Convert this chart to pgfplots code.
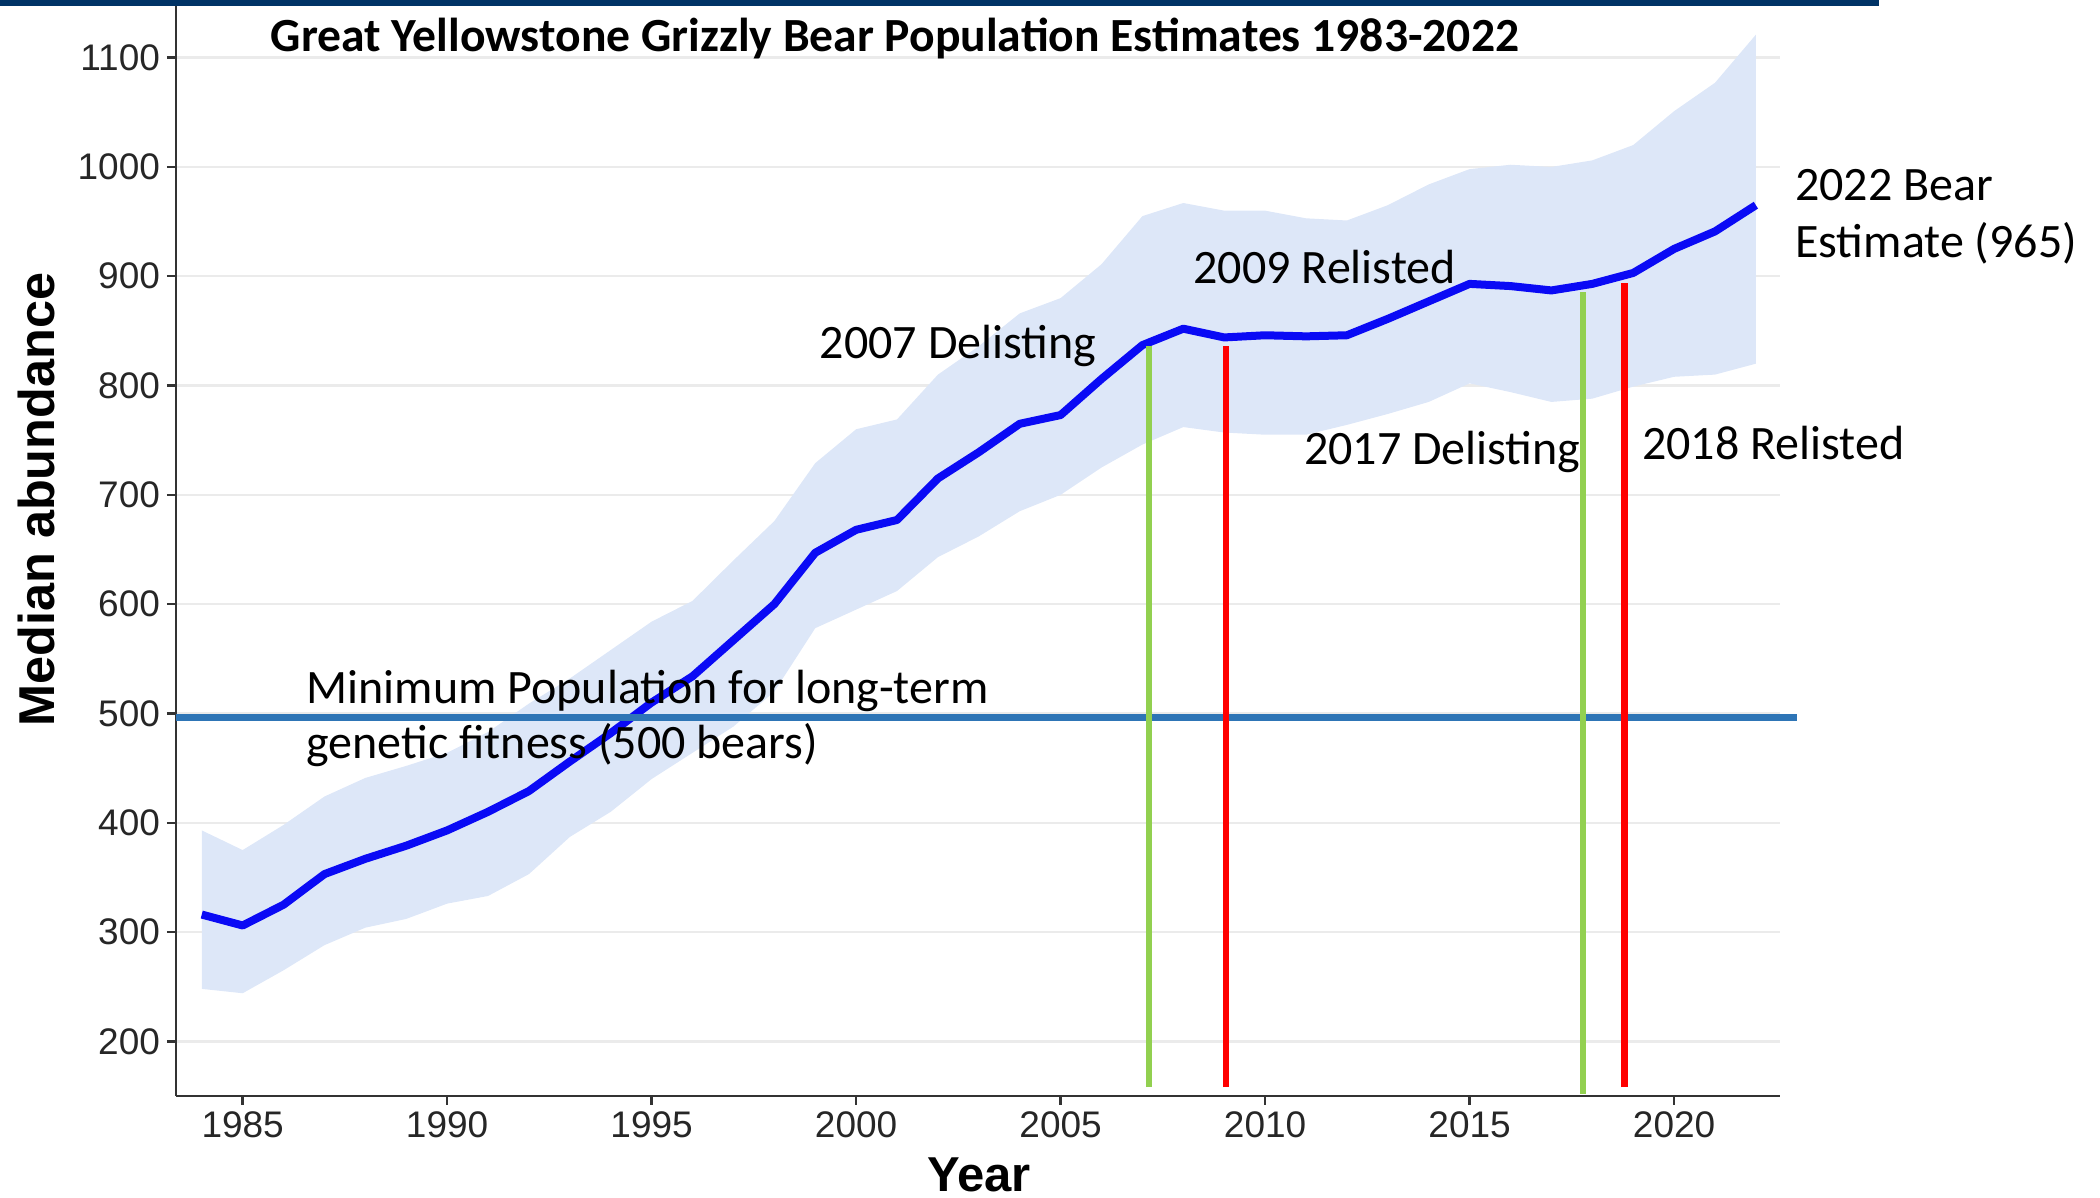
\documentclass[border=0pt]{standalone}
\usepackage{fontspec}
\setmainfont{Carlito}
\newfontfamily\arialfont{Liberation Sans}
\usepackage{pgfplots}
\pgfplotsset{compat=1.18}
\usepackage{pgfplotstable}
\usepgfplotslibrary{fillbetween}

\definecolor{ribbon}{RGB}{221,231,248}
\definecolor{medline}{RGB}{10,10,245}
\definecolor{minline}{RGB}{46,117,182}
\definecolor{delist}{RGB}{146,208,80}
\definecolor{relist}{RGB}{255,0,0}
\definecolor{navy}{RGB}{0,51,102}

\tikzset{note/.style={anchor=base west, font=\fontsize{24}{28}\selectfont}}

% year, lower bound, median, upper bound
\pgfplotstableread{
year lo med hi
1984 248 316 393
1985 244 306 375
1986 265 325 398
1987 288 353 424
1988 304 367 441
1989 312 379 452
1990 326 393 464
1991 333 410 483
1992 353 429 509
1993 387 456 532
1994 410 482 558
1995 440 510 584
1996 464 534 603
1997 488 567 640
1998 520 600 676
1999 578 647 729
2000 595 668 760
2001 612 677 769
2002 643 715 810
2003 662 739 836
2004 685 765 866
2005 700 773 880
2006 725 806 911
2007 746 837 955
2008 762 852 967
2009 757 844 960
2010 755 846 960
2011 755 845 953
2012 764 846 951
2013 774 861 965
2014 785 877 984
2015 802 893 998
2016 794 891 1002
2017 785 887 1000
2018 788 893 1006
2019 799 903 1020
2020 808 925 1051
2021 810 941 1077
2022 820 965 1121
}\bears

\begin{document}
\begin{tikzpicture}
\begin{axis}[
  at={(0,0)}, anchor=south west,
  scale only axis, width=802pt, height=546.5pt,
  xmin=1983.37, xmax=2022.59, ymin=150, ymax=1150,
  clip=false,
  axis x line*=bottom, axis y line*=left,
  axis line style={-, draw=black!80, line width=1.4pt},
  xtick={1985,1990,...,2020}, ytick={200,300,...,1100},
  tick align=outside, major tick length=4.5pt,
  tick style={black!80, line width=1.2pt},
  ymajorgrids, grid style={black!8, line width=1.2pt},
  ticklabel style={font=\arialfont\fontsize{18.5}{18.5}\selectfont, text=black!85},
  /pgf/number format/1000 sep={},
  /pgf/number format/assume math mode=true,
]
\addplot[name path=up, draw=none] table[x=year, y=hi] {\bears};
\addplot[name path=lo, draw=none] table[x=year, y=lo] {\bears};
\addplot[fill=ribbon, draw=none] fill between[of=up and lo];

\addplot[medline, line width=4pt, line join=round] table[x=year, y=med] {\bears};

\addplot[minline, line width=3.4pt] coordinates {(1983.37,496.6) (2023.0,496.6)};

\addplot[delist, line width=3pt] coordinates {(2007.16,158) (2007.16,836)};
\addplot[relist, line width=3.3pt] coordinates {(2009.04,158) (2009.04,836)};
\addplot[delist, line width=3pt] coordinates {(2017.77,152) (2017.77,886)};
\addplot[relist, line width=3.3pt] coordinates {(2018.79,158) (2018.79,894)};

\node[anchor=base west, font=\bfseries\fontsize{23.8}{28}\selectfont]
  at (axis cs:1985.52,1105.3) {Great Yellowstone Grizzly Bear Population Estimates 1983-2022};
\node[note] at (axis cs:1986.39,508.8) {Minimum Population for long-term};
\node[note] at (axis cs:1986.39,459.1) {genetic fitness (500 bears)};
\node[note] at (axis cs:1998.94,825) {2007 Delisting};
\node[note] at (axis cs:2008.08,893.7) {2009 Relisted};
\node[note] at (axis cs:2010.78,728) {2017 Delisting};
\node[note] at (axis cs:2019.05,732.7) {2018 Relisted};
\node[note] at (axis cs:2022.79,969.6) {2022 Bear};
\node[note] at (axis cs:2022.79,917.5) {Estimate (965)};

\node[rotate=90, font=\arialfont\bfseries\fontsize{25.2}{25.2}\selectfont]
  at (axis cs:1979.95,695.6) {Median abundance};
\node[anchor=base, font=\arialfont\bfseries\fontsize{24.5}{24.5}\selectfont]
  at (axis cs:2003.0,63) {Year};
\end{axis}
\fill[navy] (-88pt,545.2pt) rectangle (851.5pt,548pt);
\pgfresetboundingbox
\useasboundingbox (-88pt,-51pt) rectangle (962pt,548pt);
\end{tikzpicture}
\end{document}
